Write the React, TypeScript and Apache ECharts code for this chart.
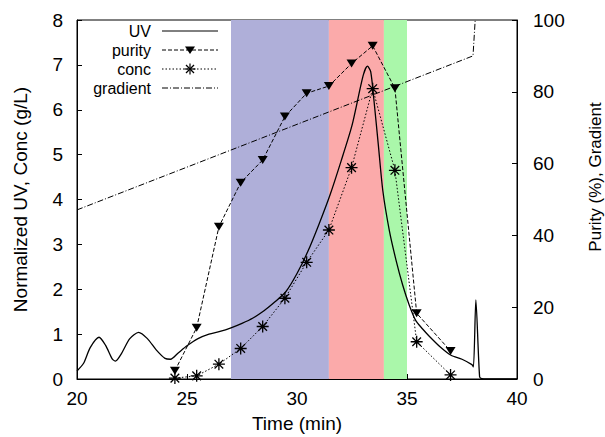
import React, { useEffect, useRef } from "react";
import * as echarts from "echarts";

const xTicks = [20, 25, 30, 35, 40];
const uvTime = [20.0, 20.3, 20.6, 21.0, 21.3, 21.6, 21.75, 22.0, 22.4, 22.8, 23.2, 23.6, 24.0, 24.25, 24.6, 25.0, 25.5, 26.0, 26.5, 27.0, 27.5, 28.0, 28.5, 29.0, 29.5, 30.0, 30.5, 31.0, 31.5, 32.0, 32.5, 33.0, 33.2, 33.35, 33.5, 33.7, 33.9, 34.2, 34.5, 34.8, 35.1, 35.4, 35.7, 36.0, 36.5, 37.0, 37.5, 37.95, 38.02, 38.13, 38.3, 38.4, 39.0, 40.0];
const uvValue = [0.18, 0.35, 0.7, 0.93, 0.75, 0.45, 0.4, 0.55, 0.9, 1.04, 0.9, 0.65, 0.46, 0.44, 0.58, 0.74, 0.9, 1.0, 1.06, 1.14, 1.24, 1.36, 1.52, 1.72, 1.95, 2.35, 2.85, 3.45, 4.1, 4.85, 5.65, 6.75, 6.97, 6.85, 6.2, 5.2, 4.2, 3.3, 2.65, 2.1, 1.65, 1.3, 1.12, 0.96, 0.72, 0.53, 0.44, 0.32, 0.27, 1.76, 0.05, 0.01, 0.0, 0.0];
const sampleTime = [24.45, 25.44, 26.45, 27.44, 28.44, 29.45, 30.44, 31.45, 32.48, 33.44, 34.45, 35.44, 36.98];
const purityValue = [2.3, 14.3, 42.4, 54.7, 61.0, 73.1, 79.6, 81.6, 87.9, 92.8, 81.0, 18.3, 7.8];
const concValue = [0.02, 0.07, 0.33, 0.68, 1.17, 1.8, 2.6, 3.32, 4.71, 6.47, 4.65, 0.83, 0.09];
const gradientTime = [20, 38.0, 38.1];
const gradientValue = [47.1, 90.0, 100];
const regionStart = [27.0, 31.45, 33.95];
const regionEnd = [31.45, 33.95, 35.0];
const regionColor = ["#afafd9", "#fbaaaa", "#aaf7aa"];
const legendNames = ["UV", "purity", "conc", "gradient"];
const rightAxisTitle = "Purity (%), Gradient";

const pair = (xs: number[], ys: number[]) => xs.map((x, i) => [x, ys[i]]);

const starPath = "path://M0,-1L0,1M-1,0L1,0M-0.72,-0.72L0.72,0.72M-0.72,0.72L0.72,-0.72";
const FONT = "Liberation Sans";

export default function App() {
  const ref = useRef<HTMLDivElement>(null);
  useEffect(() => {
    if (!ref.current) return;
    const chart = echarts.init(ref.current, undefined, { renderer: "svg" });
    const lx1 = 162, lx2 = 218, ly0 = 31, ldy = 19;
    const legendGraphics: any[] = [];
    const dashes: any[] = [null, [4, 2], [1.5, 2], [6, 2, 1, 2]];
    legendNames.forEach((n, i) => {
      const y = ly0 + i * ldy;
      legendGraphics.push({
        type: "text", x: 151, y, style: { text: n, font: `16px '${FONT}'`, fill: "#000", align: "right", verticalAlign: "middle" },
      });
      legendGraphics.push({
        type: "line", shape: { x1: lx1, y1: y, x2: lx2, y2: y },
        style: { stroke: "#000", lineWidth: 1, lineDash: dashes[i] || undefined },
      });
    });
    legendGraphics.push({
      type: "polygon", shape: { points: [[185, ly0 + ldy - 3.5], [195, ly0 + ldy - 3.5], [190, ly0 + ldy + 4]] },
      style: { fill: "#000" },
    });
    const cy = ly0 + 2 * ldy;
    legendGraphics.push({ type: "line", shape: { x1: 190, y1: cy - 5.5, x2: 190, y2: cy + 5.5 }, style: { stroke: "#000", lineWidth: 1.2 } });
    legendGraphics.push({ type: "line", shape: { x1: 184.5, y1: cy, x2: 195.5, y2: cy }, style: { stroke: "#000", lineWidth: 1.2 } });
    legendGraphics.push({ type: "line", shape: { x1: 186, y1: cy - 4, x2: 194, y2: cy + 4 }, style: { stroke: "#000", lineWidth: 1.2 } });
    legendGraphics.push({ type: "line", shape: { x1: 186, y1: cy + 4, x2: 194, y2: cy - 4 }, style: { stroke: "#000", lineWidth: 1.2 } });
    legendGraphics.push({
      type: "text", x: 595, y: 177, rotation: Math.PI / 2,
      style: { text: rightAxisTitle, font: `17px '${FONT}'`, fill: "#000", align: "center", verticalAlign: "middle" },
    });

    const axisCommon = {
      axisLine: { lineStyle: { color: "#000", width: 1 } },
      axisTick: { inside: true, length: 5, lineStyle: { color: "#000" } },
      splitLine: { show: false },
      axisLabel: { color: "#000", fontFamily: FONT, fontSize: 19 },
      nameTextStyle: { color: "#000", fontFamily: FONT, fontSize: 19 },
    };

    chart.setOption({
      animation: false,
      backgroundColor: "#fff",
      grid: {
        left: 77, right: 88, top: 20, bottom: 58, containLabel: false, outerBoundsMode: "none",
        show: true, borderColor: "#000", borderWidth: 1, backgroundColor: "transparent",
      },
      xAxis: {
        type: "value", min: xTicks[0], max: xTicks[xTicks.length - 1], interval: 5,
        name: "Time (min)", nameLocation: "middle", nameGap: 35,
        ...axisCommon,
        axisLabel: { ...axisCommon.axisLabel, margin: 10 },
      },
      yAxis: [
        {
          type: "value", min: 0, max: 8, interval: 1,
          name: "Normalized UV, Conc (g/L)", nameLocation: "middle", nameGap: 47,
          ...axisCommon,
          axisLabel: { ...axisCommon.axisLabel, margin: 14 },
        },
        {
          type: "value", min: 0, max: 100, interval: 20, position: "right",
          ...axisCommon,
          axisLabel: { ...axisCommon.axisLabel, margin: 16 },
        },
      ],
      series: [
        {
          type: "line", data: [], z: 0, silent: true,
          markArea: {
            silent: true,
            data: regionStart.map((s, i) => [
              { xAxis: s, yAxis: 0, itemStyle: { color: regionColor[i], opacity: 1 } },
              { xAxis: regionEnd[i], yAxis: 8 },
            ]),
          },
        },
        {
          name: "UV", type: "line", data: pair(uvTime, uvValue), smooth: 0.25, showSymbol: false, symbol: "none",
          lineStyle: { color: "#000", width: 1.3 }, z: 5,
        },
        {
          name: "purity", type: "line", yAxisIndex: 1, data: pair(sampleTime, purityValue),
          symbol: "triangle", symbolRotate: 180, symbolSize: [10, 8], showAllSymbol: true,
          itemStyle: { color: "#000" }, lineStyle: { color: "#000", width: 1, type: [4, 2] }, z: 6,
        },
        {
          name: "conc", type: "line", data: pair(sampleTime, concValue),
          symbol: starPath, symbolSize: 12, showAllSymbol: true,
          itemStyle: { color: "none", borderColor: "#000", borderWidth: 1.3 },
          lineStyle: { color: "#000", width: 1, type: [1.5, 2] }, z: 6,
        },
        {
          name: "gradient", type: "line", yAxisIndex: 1, data: pair(gradientTime, gradientValue), symbol: "none",
          lineStyle: { color: "#000", width: 1, type: [6, 2, 1, 2] }, z: 4,
        },
      ],
      graphic: legendGraphics,
    });
    return () => chart.dispose();
  }, []);
  return <div ref={ref} style={{ width: 605, height: 437, position: "absolute", left: 0, top: 0 }} />;
}
